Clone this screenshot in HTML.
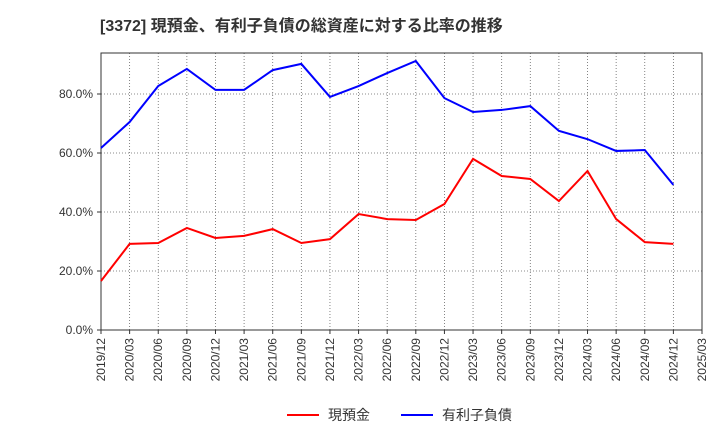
<!DOCTYPE html>
<html><head><meta charset="utf-8"><style>
body{margin:0;background:#fff;font-family:"Liberation Sans","Noto Sans CJK JP",sans-serif;}
svg text{font-family:"Liberation Sans","Noto Sans CJK JP",sans-serif;}
</style></head><body>
<svg id="c" width="720" height="440">
<text x="100" y="31" font-size="16" font-weight="bold" fill="#333">[3372]  現預金、有利子負債の総資産に対する比率の推移</text>
<g id="grid"></g><g id="axes"></g><g id="series"></g>
<g>
<line x1="287" y1="415" x2="319" y2="415" stroke="#f00" stroke-width="2"/>
<text x="328" y="420" font-size="14" fill="#333">現預金</text>
<line x1="401" y1="415" x2="433" y2="415" stroke="#00f" stroke-width="2"/>
<text x="442" y="420" font-size="14" fill="#333">有利子負債</text>
</g>
</svg>
<script>
const xLabels=["2019/12","2020/03","2020/06","2020/09","2020/12","2021/03","2021/06","2021/09","2021/12","2022/03","2022/06","2022/09","2022/12","2023/03","2023/06","2023/09","2023/12","2024/03","2024/06","2024/09","2024/12","2025/03"];
const yTicks=[0,20,40,60,80];
const cash=[16.6,29.2,29.5,34.6,31.2,31.9,34.2,29.5,30.8,39.3,37.6,37.3,42.7,58.0,52.2,51.2,43.7,53.9,37.6,29.8,29.2];
const debt=[61.7,70.5,82.7,88.5,81.4,81.4,88.1,90.2,79.0,82.7,87.1,91.2,78.6,73.9,74.6,75.9,67.5,64.7,60.7,61.0,49.2];
const L=101,R=702,T=53,B=330;
const xs=i=>L+i*(R-L)/(xLabels.length-1);
const ys=v=>B-v*(B-94)/80;
const NS="http://www.w3.org/2000/svg";
function mk(p,t,a){const e=document.createElementNS(NS,t);for(const k in a)e.setAttribute(k,a[k]);p.appendChild(e);return e;}
const g=document.getElementById('grid'),ax=document.getElementById('axes'),s=document.getElementById('series');
xLabels.forEach((l,i)=>{const x=xs(i);
 const ln=mk(g,'line',{x1:x,y1:T,x2:x,y2:B,stroke:'#666','stroke-dasharray':'1,2','stroke-width':0.8});
 
 
 mk(ax,'line',{x1:x,y1:B,x2:x,y2:B+4,stroke:'#333'});
 const t=mk(ax,'text',{x:0,y:0,'font-size':12,fill:'#333','text-anchor':'end',transform:`translate(${x+4},${B+8}) rotate(-90)`});
 t.textContent=l;
 
 
});
yTicks.forEach(v=>{const y=ys(v);
 const ln=mk(g,'line',{x1:L,y1:y,x2:R,y2:y,stroke:'#666','stroke-dasharray':'1,2','stroke-width':0.8});
 
 
 mk(ax,'line',{x1:L-4,y1:y,x2:L,y2:y,stroke:'#333'});
 const t=mk(ax,'text',{x:L-8,y:y+4,'font-size':12,fill:'#333','text-anchor':'end'});
 t.textContent=v.toFixed(1)+'%';
 
 
});
const fr=mk(ax,'rect',{x:L,y:T,width:R-L,height:B-T,fill:'none',stroke:'#333'});


function line(d,c,n){const p=mk(s,'polyline',{points:d.map((v,i)=>xs(i)+','+ys(v)).join(' '),fill:'none',stroke:c,'stroke-width':2});
 
 }
line(cash,'#f00','cash-line');
line(debt,'#00f','debt-line');
</script>
</body></html>
